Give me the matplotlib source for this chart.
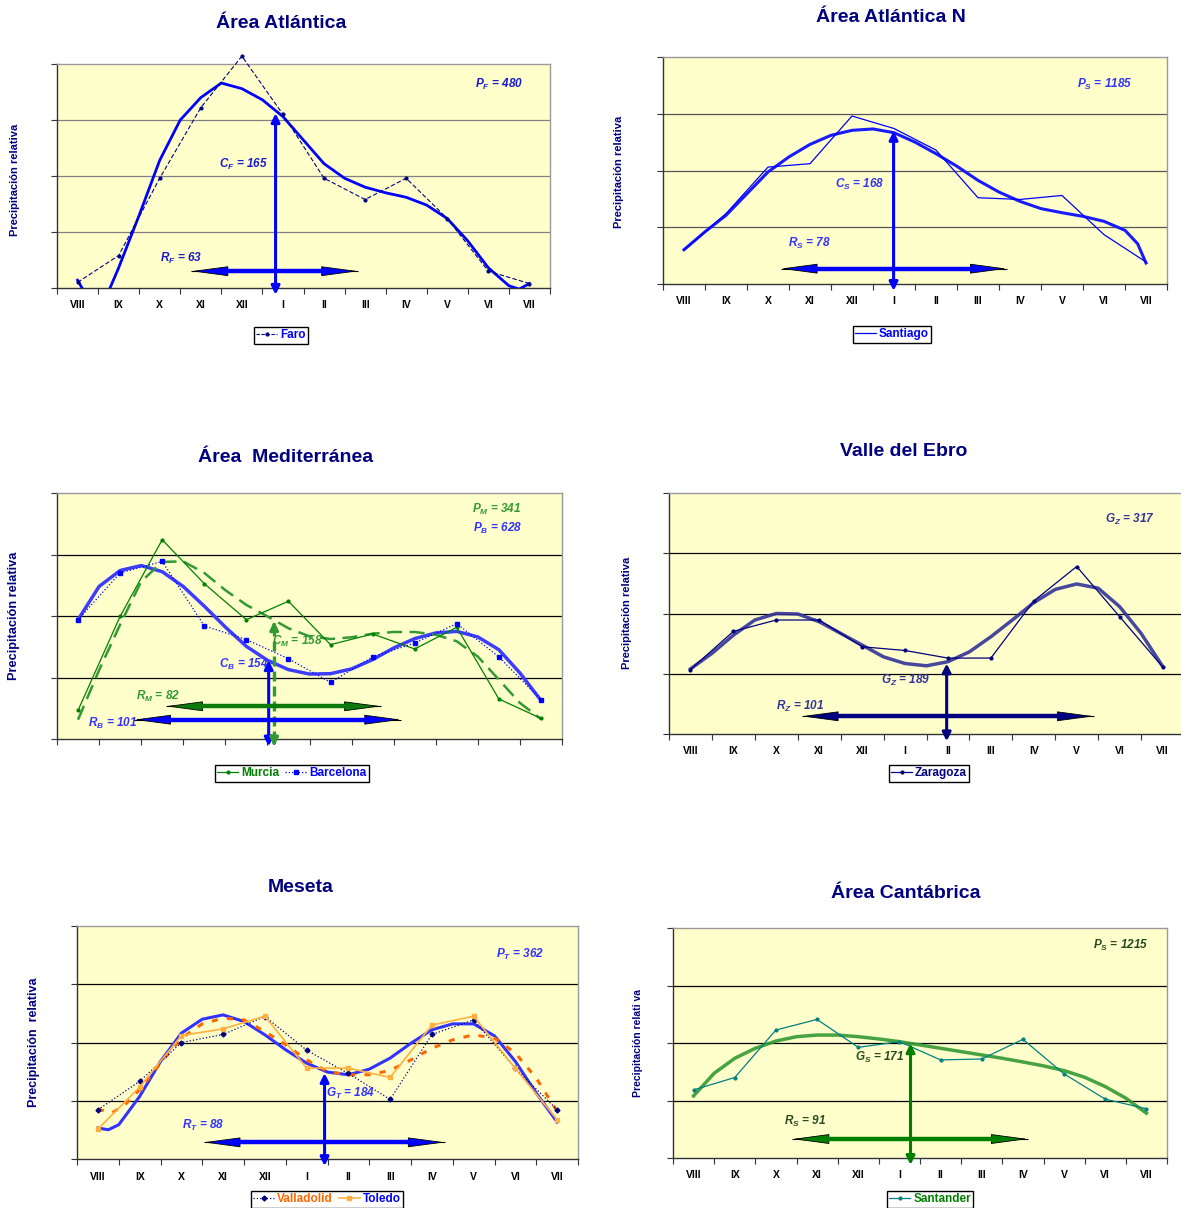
import numpy as np
import matplotlib
matplotlib.use('Agg')
import matplotlib.pyplot as plt
from matplotlib.patches import FancyArrowPatch
from matplotlib.lines import Line2D

plt.rcParams['font.family'] = ['Liberation Sans', 'DejaVu Sans']
plt.rcParams['mathtext.fontset'] = 'custom'
plt.rcParams['mathtext.it'] = 'Liberation Sans:bold:italic'
plt.rcParams['mathtext.rm'] = 'Liberation Sans:bold:italic'
plt.rcParams['mathtext.bf'] = 'Liberation Sans:bold:italic'
plt.rcParams['lines.solid_joinstyle'] = 'round'
plt.rcParams['lines.dash_joinstyle'] = 'round'

MONTHS = ['VIII', 'IX', 'X', 'XI', 'XII', 'I', 'II', 'III', 'IV', 'V', 'VI', 'VII']
MX = np.arange(12)
HALF_X = np.arange(0, 11.5, 0.5)

# --- Área Atlántica (Faro) ---
FARO = [5, 29, 98, 161, 207, 155, 98, 79, 98, 62, 15, 4]
FARO_FIT_X = [0, 0.5, 1, 1.5, 2, 2.5, 3, 3.5, 4, 4.5, 5, 5.5, 6, 6.5, 7, 7.5,
              8, 8.5, 9, 9.5, 10, 10.5, 10.75, 11]
FARO_FIT = [7, -25, 18, 65, 114, 150, 170, 183, 178, 168, 153, 132, 111, 98,
            90, 85, 81, 74, 62, 42, 18, 2, -1, 4]

# --- Área Atlántica N (Santiago) ---
SANTIAGO = [30, 62, 103, 106, 148, 137, 118, 76, 74.5, 78, 43.5, 19.4]
SANTIAGO_FIT_X = [0, 0.5, 1, 1.5, 2, 2.5, 3, 3.5, 4, 4.5, 5, 5.5, 6, 6.5, 7,
                  7.5, 8, 8.5, 9, 9.5, 10, 10.5, 10.8, 11]
SANTIAGO_FIT = [30.2, 46, 60.5, 79.6, 98.7, 112, 123, 131, 135.4, 136.6, 133.3,
                125, 114.8, 103.7, 91.3, 81, 72.8, 66.4, 62.8, 59.6, 55.2, 47.3,
                35.5, 18.5]

# --- Área Mediterránea (Murcia, Barcelona) ---
MURCIA = [23.3, 99.7, 162, 126.3, 97, 112, 76.7, 85.4, 73.2, 90.8, 32.5, 16.8]
BARCELONA = [97, 135, 144.4, 92, 80.8, 65.3, 46, 66.7, 78, 93.8, 66.7, 32]
MURCIA_FIT = [15.7, 56, 93, 128, 144, 144.4, 135, 121, 109, 99.7, 90, 83.5,
              81.3, 82.7, 85.6, 87, 87, 84.8, 79.4, 67, 48.2, 29.3, 16.3]
BARCELONA_FIT = [97, 124, 137, 141, 136, 124, 108, 91, 75.3, 64, 56.4, 52.8,
                 53.1, 57, 64.5, 74, 81.6, 86.2, 87.5, 83, 72.6, 53.7, 31.4]

# --- Valle del Ebro (Zaragoza) ---
ZARAGOZA = [53.5, 85.2, 94.6, 94.6, 72.4, 69.3, 63, 63, 110.4, 139, 97.4, 55.8]
ZARAGOZA_FIT = [54, 66.9, 82, 94.6, 100, 99.6, 93.2, 83.5, 73.8, 64, 58.5, 56.6,
                60, 68.2, 80.7, 94.6, 109, 120, 124.5, 121, 105.7, 83.5, 56.3]

# --- Meseta (Valladolid, Toledo) ---
VALLADOLID = [42.3, 66.6, 100, 106.9, 122.3, 93.4, 73.4, 51.1, 106.9, 119.4, 77.7, 42.3]
TOLEDO = [25.7, 61.7, 106, 111.7, 122.6, 78, 78, 70, 114.9, 122.6, 77.7, 33.7]
VALLADOLID_FIT_X = [0, 0.33, 0.65, 1, 1.5, 2, 2.5, 3, 3.5, 4, 4.5, 5, 5.5, 6,
                    6.5, 7, 7.5, 8, 8.5, 9, 9.5, 10, 10.5, 11]
VALLADOLID_FIT = [42.9, 39.4, 46.6, 59.4, 82.3, 103.7, 116, 120.9, 119.4, 109.4,
                  98, 85.1, 75.1, 72.3, 72.3, 76, 85.1, 95.1, 102.3, 106.6, 103.7,
                  90.9, 69.4, 40.9]
TOLEDO_FIT_X = [0, 0.25, 0.5, 1, 1.5, 2, 2.5, 3, 3.5, 4, 4.5, 5, 5.5, 6, 6.5,
                7, 7.5, 8, 8.5, 9, 9.5, 10, 10.5, 11]
TOLEDO_FIT = [26.6, 25.1, 29.4, 53.7, 83.7, 108, 120, 123.7, 118, 106.6, 93.7,
              82.3, 74.6, 72.3, 77.1, 86.6, 99.4, 110.9, 116, 116, 105.7, 83.7,
              56.6, 31.7]

# --- Área Cantábrica (Santander) ---
SANTANDER = [59.2, 70, 111.3, 120.5, 96.2, 101.2, 85.3, 86.1, 103.2, 73.1, 51.2, 42.8]
SANTANDER_FIT = [54, 73.7, 86.7, 95.4, 101.7, 105.5, 106.9, 106.9, 105.5, 103.5,
                 101.2, 98.3, 95.4, 92.5, 89.6, 86.7, 83.5, 80.1, 76, 70.2, 62.1,
                 52, 39]

# arrows: (x centre line, top value) and (y, x start, x end)
FARO_V, FARO_H = (4.82, 156), (15, 2.77, 6.83)
SANTIAGO_V, SANTIAGO_H = (4.99, 134.8), (13.5, 2.3, 7.69)
BARCELONA_V, BARCELONA_H = (4.53, 64), (15.7, 1.33, 7.68)
MURCIA_V, MURCIA_H = (4.66, 95.7), (26.6, 2.09, 7.2)
ZARAGOZA_V, ZARAGOZA_H = (5.97, 58.5), (14.7, 2.59, 9.4)
TOLEDO_V, TOLEDO_H = (5.43, 73.7), (14.3, 2.53, 8.31)
SANTANDER_V, SANTANDER_H = (5.27, 99.7), (16.5, 2.4, 8.12)

W, H = 1181, 1208
fig = plt.figure(figsize=(W / 100, H / 100), dpi=100)
fig.patch.set_facecolor('white')

NAVY = '#000080'


def px_rect(l, t, r, b):
    return [l / W, 1 - b / H, (r - l) / W, (b - t) / H]


def make_axes(rect, grid_color, labels=True):
    ax = fig.add_axes(px_rect(*rect))
    ax.set_facecolor('#FFFFCC')
    ax.set_xlim(-0.5, 11.5)
    ax.set_ylim(0, 200)
    ax.set_yticks([0, 50, 100, 150, 200])
    ax.set_yticklabels([])
    ax.set_xticks(np.arange(-0.5, 12, 1))
    ax.set_xticklabels([])
    ax.set_xticks(MX, minor=True)
    ax.set_xticklabels(MONTHS if labels else [''] * 12, minor=True,
                       fontsize=7.5, fontweight='bold')
    ax.tick_params(axis='both', which='major', direction='out', length=4,
                   width=0.8, color='#333333')
    ax.tick_params(axis='x', which='minor', length=0, pad=9)
    for y in [50, 100, 150]:
        ax.axhline(y, color=grid_color, lw=0.9, zorder=1)
    for s in ['left', 'bottom']:
        ax.spines[s].set_color('#333333')
        ax.spines[s].set_linewidth(1.0)
    for s in ['top', 'right']:
        ax.spines[s].set_color('#999999')
        ax.spines[s].set_linewidth(1.0)
    return ax


def title(x, y, txt):
    fig.text(x / W, 1 - y / H, txt, ha='center', va='center', fontsize=14,
             fontweight='bold', color=NAVY)


def ylabel(x, y, txt, size=8):
    fig.text(x / W, 1 - y / H, txt, ha='center', va='center', rotation=90,
             fontsize=size, fontweight='bold', color=NAVY)


def note(ax, x, y, txt, color):
    ax.text(x, y, txt, ha='center', va='center', fontsize=8.5,
            fontweight='bold', fontstyle='italic', color=color, zorder=8)


def harrow(ax, y, x0, x1, color):
    ax.plot([x0, x1], [y, y], color='black', lw=0.8, zorder=5,
            solid_capstyle='butt')
    ax.add_patch(FancyArrowPatch((x0, y), (x1, y),
                                 arrowstyle='<|-|>,head_length=2.4,head_width=0.32',
                                 mutation_scale=10, facecolor=color,
                                 edgecolor='black', lw=0.6, shrinkA=0,
                                 shrinkB=0, zorder=6))
    # shaft between the two heads
    ax_w = ax.get_position().width * W
    dx = (24 * 100 / 72) / (ax_w / 12)
    ax.plot([x0 + dx, x1 - dx], [y, y], color=color, lw=3.2, zorder=7,
            solid_capstyle='butt')


def varrow(ax, x, top, color, dashed=False):
    bottom = -6
    if not dashed:
        ax.add_patch(FancyArrowPatch((x, bottom), (x, top),
                                     arrowstyle='<|-|>,head_length=0.5,head_width=0.25',
                                     mutation_scale=10, color=color, lw=2.2,
                                     shrinkA=0, shrinkB=0, zorder=7,
                                     clip_on=False))
    else:
        ax.plot([x, x], [bottom + 4, top - 4], color=color, lw=2.4,
                dashes=(3, 1.5), zorder=7, clip_on=False)
        for a, b in [(top - 5, top), (bottom + 5, bottom)]:
            ax.add_patch(FancyArrowPatch((x, a), (x, b),
                                         arrowstyle='-|>,head_length=0.5,head_width=0.25',
                                         mutation_scale=10, color=color, lw=2.2,
                                         shrinkA=0, shrinkB=0, zorder=7,
                                         clip_on=False))


def legend(ax, handles, labels, colors, cx, ty):
    leg = fig.legend(handles, labels, loc='upper center',
                     bbox_to_anchor=(cx / W, 1 - ty / H), ncol=len(handles),
                     frameon=True, fancybox=False, framealpha=1,
                     edgecolor='black',
                     prop={'weight': 'bold', 'size': 8.5}, labelcolor=colors,
                     handlelength=1.8, handletextpad=0.25, columnspacing=0.5,
                     borderpad=0.2, borderaxespad=0)
    leg.get_frame().set_linewidth(1.0)
    return leg


# ---------------- Área Atlántica ----------------
ax1 = make_axes((57, 64, 550, 288), '#808080')
ax1.plot(FARO_FIT_X, FARO_FIT, color='#0000FF', lw=2, zorder=3)
ax1.plot(MX, FARO, color=NAVY, lw=0.8, dashes=(4, 2), marker='o', ms=2,
         zorder=4, clip_on=False)
varrow(ax1, FARO_V[0], FARO_V[1], '#0000FF')
harrow(ax1, *FARO_H, '#0000FF')
note(ax1, 10.26, 182, r'$P_{F}$ = 480', '#1a1acc')
note(ax1, 4.05, 110.6, r'$C_{F}$ = 165', '#1a1acc')
note(ax1, 2.52, 26, r'$R_{F}$ = 63', '#1a1acc')
title(281, 23, 'Área Atlántica')
ylabel(15, 180, 'Precipitación relativa')
legend(ax1, [Line2D([], [], color=NAVY, lw=0.8, dashes=(3, 1.5), marker='o', ms=2)],
       ['Faro'], ['#0000FF'], 281, 327)

# ---------------- Área Atlántica N ----------------
ax2 = make_axes((663, 57, 1167, 284), '#555555')
ax2.plot(SANTIAGO_FIT_X, SANTIAGO_FIT, color='#1a1aff', lw=2.2, zorder=3)
ax2.plot(MX, SANTIAGO, color='#0000FF', lw=0.9, zorder=4)
varrow(ax2, SANTIAGO_V[0], SANTIAGO_V[1], '#0000FF')
harrow(ax2, *SANTIAGO_H, '#0000FF')
note(ax2, 10.01, 176, r'$P_{S}$ = 1185', '#3333ff')
note(ax2, 4.19, 87.5, r'$C_{S}$ = 168', '#3333ff')
note(ax2, 2.98, 35.5, r'$R_{S}$ = 78', '#3333ff')
title(891, 17, 'Área Atlántica N')
ylabel(619, 172, 'Precipitación relativa')
legend(ax2, [Line2D([], [], color='#0000FF', lw=0.9)],
       ['Santiago'], ['#0000FF'], 892, 326)

# ---------------- Área Mediterránea ----------------
ax3 = make_axes((57, 493, 562, 739), 'black', labels=False)
ax3.plot(HALF_X, BARCELONA_FIT, color='#3d3dff', lw=2.5, zorder=3)
ax3.plot(HALF_X, MURCIA_FIT, color='#339933', lw=1.8, dashes=(6, 3), zorder=3)
ax3.plot(MX, MURCIA, color='#008000', lw=0.9, marker='o', ms=2, zorder=4)
ax3.plot(MX, BARCELONA, color='#0000FF', lw=0.9, ls=':', marker='s', ms=2.8,
         zorder=4)
varrow(ax3, BARCELONA_V[0], BARCELONA_V[1], '#0000FF')
varrow(ax3, MURCIA_V[0], MURCIA_V[1], '#339933', dashed=True)
harrow(ax3, *MURCIA_H, '#0b7a0b')
harrow(ax3, *BARCELONA_H, '#0000FF')
note(ax3, 9.96, 186.4, r'$P_{M}$ = 341', '#339933')
note(ax3, 9.96, 171, r'$P_{B}$ = 628', '#3333ff')
note(ax3, 5.22, 79.4, r'$C_{M}$ = 158', '#339933')
note(ax3, 3.94, 60.4, r'$C_{B}$ = 154', '#3333ff')
note(ax3, 1.91, 34.7, r'$R_{M}$ = 82', '#339933')
note(ax3, 0.81, 12.5, r'$R_{B}$ = 101', '#3333ff')
title(286, 457, 'Área  Mediterránea')
ylabel(14, 616, 'Precipitación relativa', size=9.2)
legend(ax3, [Line2D([], [], color='#008000', lw=0.9, marker='o', ms=2),
             Line2D([], [], color='#0000FF', lw=0.9, ls=':', marker='s', ms=2.8)],
       ['Murcia', 'Barcelona'], ['#008000', '#0000FF'], 292, 765)

# ---------------- Valle del Ebro ----------------
ax4 = make_axes((669, 493, 1184, 734), 'black')
ax4.plot(HALF_X, ZARAGOZA_FIT, color='#333399', lw=2.5, alpha=0.9, zorder=3)
ax4.plot(MX, ZARAGOZA, color=NAVY, lw=0.9, marker='o', ms=2, zorder=4)
varrow(ax4, ZARAGOZA_V[0], ZARAGOZA_V[1], NAVY)
harrow(ax4, *ZARAGOZA_H, NAVY)
note(ax4, 10.24, 177.8, r'$G_{Z}$ = 317', '#333399')
note(ax4, 5.01, 44.7, r'$G_{Z}$ = 189', '#333399')
note(ax4, 2.55, 23, r'$R_{Z}$ = 101', '#333399')
title(904, 451, 'Valle del Ebro')
ylabel(627, 613, 'Precipitación relativa')
legend(ax4, [Line2D([], [], color=NAVY, lw=0.9, marker='o', ms=2)],
       ['Zaragoza'], [NAVY], 929, 765)

# ---------------- Meseta ----------------
ax5 = make_axes((77, 926, 578, 1159), 'black')
ax5.plot(TOLEDO_FIT_X, TOLEDO_FIT, color='#3333ff', lw=2.2, zorder=3)
ax5.plot(VALLADOLID_FIT_X, VALLADOLID_FIT, color='#FF6600', lw=2.2,
         dashes=(2, 3), zorder=3)
ax5.plot(MX, VALLADOLID, color=NAVY, lw=0.9, ls=':', marker='D', ms=2.5,
         zorder=4)
ax5.plot(MX, TOLEDO, color='#FFB040', lw=1.2, marker='s', ms=2.8, zorder=4)
varrow(ax5, TOLEDO_V[0], TOLEDO_V[1], '#0000FF')
harrow(ax5, *TOLEDO_H, '#0000FF')
note(ax5, 10.11, 176, r'$P_{T}$ = 362', '#3333ff')
note(ax5, 6.06, 56.6, r'$G_{T}$ = 184', '#3333ff')
note(ax5, 2.51, 29.1, r'$R_{T}$ = 88', '#3333ff')
title(301, 887, 'Meseta')
ylabel(34, 1042, 'Precipitación  relativa', size=9)
legend(ax5, [Line2D([], [], color=NAVY, lw=0.9, ls=':', marker='D', ms=2.5),
             Line2D([], [], color='#FFB040', lw=1.2, marker='s', ms=2.8)],
       ['Valladolid', 'Toledo'], ['#FF6600', '#0000FF'], 327, 1191)

# ---------------- Área Cantábrica ----------------
ax6 = make_axes((673, 928, 1167, 1158), 'black')
ax6.plot(HALF_X, SANTANDER_FIT, color='#339933', lw=2.5, alpha=0.9, zorder=3)
ax6.plot(MX, SANTANDER, color='#008080', lw=0.9, marker='o', ms=2, zorder=4)
varrow(ax6, SANTANDER_V[0], SANTANDER_V[1], '#008000')
harrow(ax6, *SANTANDER_H, '#008000')
note(ax6, 10.37, 184.7, r'$P_{S}$ = 1215', '#2a4a1f')
note(ax6, 4.52, 87.3, r'$G_{S}$ = 171', '#2a4a1f')
note(ax6, 2.7, 31.8, r'$R_{S}$ = 91', '#2a4a1f')
title(906, 893, 'Área Cantábrica')
ylabel(638, 1043, 'Precipitación relati va', size=7.5)
legend(ax6, [Line2D([], [], color='#008080', lw=0.9, marker='o', ms=2)],
       ['Santander'], ['#008000'], 930, 1191)

fig.savefig('out.png', dpi=100, facecolor='white')
